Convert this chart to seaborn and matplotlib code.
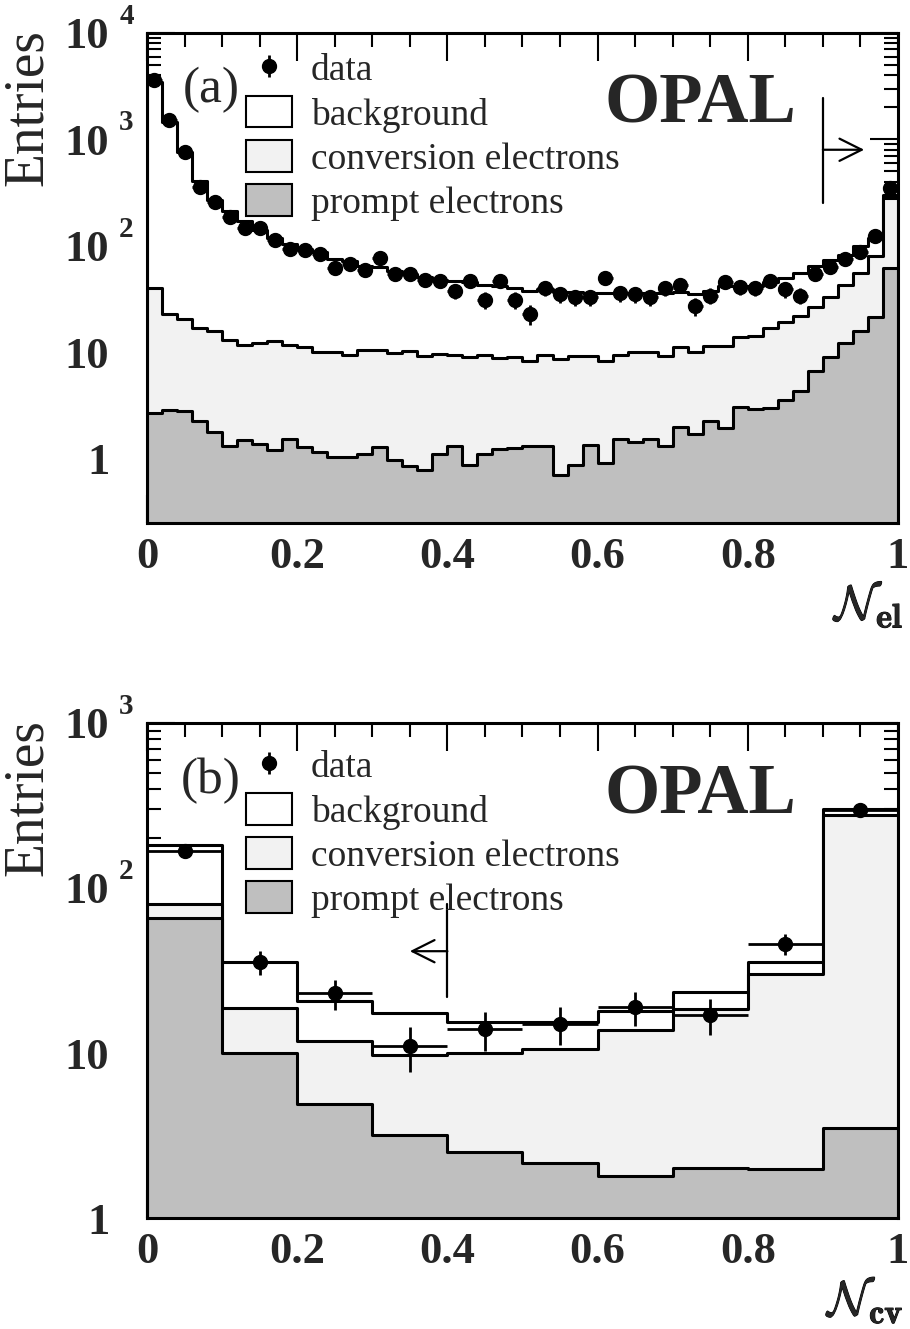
import numpy as np
import pandas as pd
import matplotlib
matplotlib.use('Agg')
import matplotlib.pyplot as plt
import matplotlib.patheffects as pe
from matplotlib.patches import Patch
from matplotlib.ticker import MultipleLocator, LogLocator, NullFormatter
from matplotlib.container import ErrorbarContainer
from matplotlib.legend_handler import HandlerErrorbar
import seaborn as sns

# ---- panel (a): N_el, 50 bins of 0.02 ----
edges_a = np.linspace(0.0, 1.0, 51)
data_a = [3650, 1535, 763, 355, 257, 187, 148, 148, 113, 94,
          91, 84, 62, 68, 59, 77, 55, 55, 48, 47,
          38, 47, 31, 47, 31, 23, 40, 35, 33, 33,
          50, 36, 35, 33, 40, 43, 27, 34, 46, 41,
          40, 47, 39, 34, 55, 64, 76, 87, 123, 350]
# stacked sums: background+conversion+prompt, conversion+prompt, prompt
total_a = [3500, 1450, 760, 410, 272, 211, 170, 140, 119, 105,
           94, 88, 76, 72, 65, 63, 58, 55, 51, 48,
           47, 46, 43, 42, 40, 38, 39, 37, 37, 36,
           36, 36, 36, 36, 36, 37, 35, 38, 42, 42,
           42, 46, 50, 56, 65, 74, 83, 99, 119, 300]
conv_a = [40, 23, 20.6, 17, 16, 13.2, 11.7, 12.3, 12.7, 11.7,
          11.2, 10.1, 10.1, 9.5, 10.6, 10.6, 9.9, 10.3, 9.2, 9.7,
          9.5, 9.1, 9.4, 8.9, 9.0, 8.3, 9.5, 8.7, 9.2, 9.2,
          8.3, 9.5, 10.0, 10.1, 9.2, 11.2, 10.1, 11.6, 11.6, 13.9,
          14.4, 17, 19.2, 21.8, 26.7, 33.2, 42.7, 55.7, 80, 283]
prompt_a = [2.70, 2.86, 2.80, 2.25, 1.79, 1.33, 1.50, 1.39, 1.22, 1.55,
            1.28, 1.16, 1.03, 1.03, 1.10, 1.30, 0.98, 0.85, 0.78, 1.11,
            1.31, 0.88, 1.10, 1.24, 1.27, 1.33, 1.33, 0.70, 0.88, 1.34,
            0.92, 1.52, 1.43, 1.54, 1.31, 2.01, 1.72, 2.29, 1.95, 3.08,
            2.95, 3.01, 3.58, 4.38, 6.65, 9.0, 12.3, 16.0, 21.5, 62]

# ---- panel (b): N_cv, 10 bins of 0.1 ----
edges_b = np.linspace(0.0, 1.0, 11)
data_b = [168, 35.5, 23, 11, 14, 15, 19, 17, 46, 295]
total_b = [181, 35.6, 20.6, 17.5, 15.4, 15.5, 17.9, 23.5, 35.8, 300]
conv_b = [80, 18.8, 11.8, 9.67, 10.0, 10.6, 13.7, 18.4, 30, 278]
prompt_b = [66, 10.0, 4.9, 3.2, 2.5, 2.17, 1.80, 2.01, 1.98, 3.52]

x_ticks = [0, 0.2, 0.4, 0.6, 0.8, 1]
x_ticklabels = ['0', '0.2', '0.4', '0.6', '0.8', '1']
legend_labels = ['data', 'background', 'conversion electrons', 'prompt electrons']
fill_colors = ['white', '#f2f2f2', '#bfbfbf']

sns.set_style('ticks')
plt.rcParams['font.family'] = ['Liberation Serif', 'DejaVu Serif']
plt.rcParams['axes.linewidth'] = 2.2


def draw_panel(ax, edges, total, conv, prompt, data, ylim, y_ticks, y_ticklabels,
               exponents, tag, xlabel, cut, cut_span, arrow_y, arrow_to, legend_top):
    centers = 0.5 * (edges[:-1] + edges[1:])
    half = 0.5 * (edges[1] - edges[0])

    # stacked MC: largest sum first so smaller ones sit on top
    for vals, col in zip([total, conv, prompt], fill_colors):
        df = pd.DataFrame({'x': centers, 'w': vals})
        sns.histplot(data=df, x='x', weights='w', bins=list(edges), element='step',
                     fill=True, color=col, edgecolor='black', linewidth=2.2,
                     alpha=1, ax=ax)

    data = np.asarray(data, dtype=float)
    h_data = ax.errorbar(centers, data, yerr=np.sqrt(data), fmt='o', color='black',
                         ms=10, elinewidth=2, capsize=0, zorder=5)
    ax.errorbar(centers, data, xerr=half, fmt='none', ecolor='black',
                elinewidth=2, capsize=0, zorder=5)

    ax.set_yscale('log')
    ax.set_xlim(0, 1)
    ax.set_ylim(*ylim)

    ax.set_xticks(x_ticks)
    ax.set_xticklabels(x_ticklabels)
    ax.xaxis.set_minor_locator(MultipleLocator(0.05))
    ax.set_yticks(y_ticks)
    ax.set_yticklabels(y_ticklabels)
    ax.yaxis.set_minor_locator(LogLocator(base=10, subs=np.arange(2, 10)))
    ax.yaxis.set_minor_formatter(NullFormatter())
    ax.tick_params(which='both', direction='in', top=True, right=True,
                   width=1.5, color='black')
    ax.tick_params(which='major', length=20)
    ax.tick_params(which='minor', length=10)
    ax.tick_params(axis='x', which='major', pad=10, labelsize=32)
    ax.tick_params(axis='y', which='major', pad=27, labelsize=32)
    for lab in ax.get_xticklabels() + ax.get_yticklabels():
        lab.set_fontweight('bold')
    for sp in ax.spines.values():
        sp.set_visible(True)
        sp.set_color('black')
        sp.set_linewidth(2.2)

    for v, e in exponents:
        ax.annotate(e, xy=(-0.037, v), xycoords=('axes fraction', 'data'),
                    xytext=(0, 12), textcoords='offset points', ha='left', va='center',
                    fontsize=21, fontweight='bold', annotation_clip=False)

    ax.set_ylabel('Entries', fontsize=40, loc='top')
    ax.yaxis.set_label_coords(-0.124, 1.008)
    ax.set_xlabel(xlabel, fontsize=35, loc='right', math_fontfamily='cm',
                  path_effects=[pe.withStroke(linewidth=0.7, foreground='black')])
    ax.xaxis.set_label_coords(1.009, -0.115)

    ax.text(0.085, 0.859, tag, transform=ax.transAxes, ha='center', va='baseline',
            fontsize=37)
    ax.text(0.737, 0.818, 'OPAL', transform=ax.transAxes, ha='center', va='baseline',
            fontsize=51, fontweight='bold')

    handles = [h_data] + [Patch(facecolor=c, edgecolor='black', linewidth=1.5)
                          for c in fill_colors]
    ax.legend(handles, legend_labels, loc='upper left', bbox_to_anchor=(0.132, legend_top),
              frameon=False, fontsize=27, handlelength=1.23, handleheight=0.92,
              handletextpad=0.5, labelspacing=0.2, borderpad=0, borderaxespad=0,
              handler_map={ErrorbarContainer: HandlerErrorbar(yerr_size=0.3)})

    # selection cut marker
    ax.plot([cut, cut], cut_span, color='black', lw=1.6)
    ax.annotate('', xy=(arrow_to, arrow_y), xytext=(cut, arrow_y),
                arrowprops=dict(arrowstyle='->', lw=1.6, color='black',
                                mutation_scale=40, shrinkA=0, shrinkB=0))


fig = plt.figure(figsize=(9.1, 13.29), dpi=100)
ax_a = fig.add_axes([0.1615, 0.6065, 0.8253, 0.3687])
ax_b = fig.add_axes([0.1615, 0.0835, 0.8253, 0.3725])

draw_panel(ax_a, edges_a, total_a, conv_a, prompt_a, data_a,
           ylim=(0.25, 1e4), y_ticks=[1, 10, 100, 1000, 10000],
           y_ticklabels=['1', '10', '10', '10', '10'],
           exponents=[(100, '2'), (1000, '3'), (10000, '4')],
           tag='(a)', xlabel=r'$\mathcal{N}_{\mathbf{el}}$',
           cut=0.9, cut_span=(255, 2470), arrow_y=800, arrow_to=0.955,
           legend_top=0.962)

draw_panel(ax_b, edges_b, total_b, conv_b, prompt_b, data_b,
           ylim=(1, 1000), y_ticks=[1, 10, 100, 1000],
           y_ticklabels=['1', '10', '10', '10'],
           exponents=[(100, '2'), (1000, '3')],
           tag='(b)', xlabel=r'$\mathcal{N}_{\mathbf{cv}}$',
           cut=0.4, cut_span=(22, 80), arrow_y=41.4, arrow_to=0.35,
           legend_top=0.948)

fig.savefig('out.png', dpi=100)
